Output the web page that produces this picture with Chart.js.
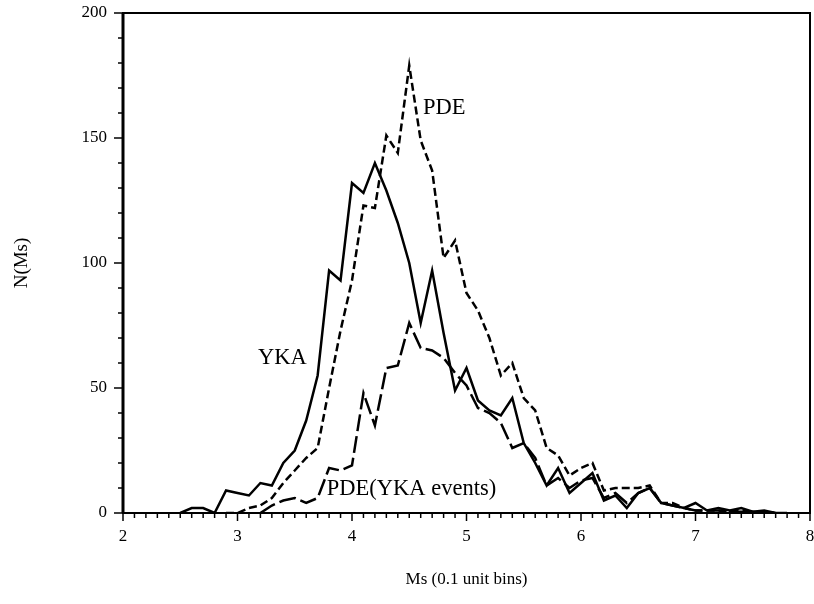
<!DOCTYPE html>
<html>
<head>
<meta charset="utf-8">
<script src="https://cdn.jsdelivr.net/npm/chart.js@4.4.1/dist/chart.umd.min.js"></script>
<style>
  html, body { margin: 0; padding: 0; background: #fff; }
  #wrap { width: 814px; height: 604px; }
</style>
</head>
<body>
<div id="wrap"><canvas id="grafico" width="814" height="604"></canvas></div>
<script>
// Ms bins (0.1 unit)
const ms = [2.5, 2.6, 2.7, 2.8, 2.9, 3.0, 3.1, 3.2, 3.3, 3.4,
            3.5, 3.6, 3.7, 3.8, 3.9, 4.0, 4.1, 4.2, 4.3, 4.4,
            4.5, 4.6, 4.7, 4.8, 4.9, 5.0, 5.1, 5.2, 5.3, 5.4,
            5.5, 5.6, 5.7, 5.8, 5.9, 6.0, 6.1, 6.2, 6.3, 6.4,
            6.5, 6.6, 6.7, 6.8, 6.9, 7.0, 7.1, 7.2, 7.3, 7.4,
            7.5, 7.6, 7.7, 7.8];

const yka = [0, 2, 2, 0, 9, 8, 7, 12, 11, 20,
             25, 37, 55, 97, 93, 132, 128, 140, 129, 116,
             100, 76, 97, 72, 49, 58, 45, 41, 39, 46,
             28, 20, 11, 18, 8, 12, 16, 5, 7, 2,
             8, 10, 4, 3, 2, 4, 1, 2, 1, 2,
             0.5, 1, 0, 0];

const pde = [null, null, null, null, 0, 0, 2, 3, 6, 12,
             17, 22, 26, 50, 73, 93, 123, 122, 151, 144,
             179, 149, 137, 102, 109, 88, 81, 70, 55, 60,
             46, 41, 26, 23, 15, 18, 20, 9, 10, 10,
             10, 11, 4, 4, 2, 1, 1, 1, 0.5, 1,
             0, 0.5, 0, null];

const pdeYka = [null, null, null, null, null, null, null, 0, 3, 5,
                6, 4, 6, 18, 17, 19, 48, 35, 58, 59,
                76, 66, 65, 62, 56, 51, 42, 40, 36, 26,
                28, 22, 11, 14, 10, 13, 14, 6, 8, 4,
                8, 10, 4, 3, 2, 1, 1, 1, 0.5, 0.5,
                0.5, 0, 0, null];

const xTicks = [2, 3, 4, 5, 6, 7, 8];
const yTicks = [0, 50, 100, 150, 200];

// etiquetas dentro del grafico (posicion en unidades de datos)
const notas = [
  { texto: "PDE", x: 4.62, y: 162 },
  { texto: "YKA", x: 3.18, y: 62 },
  { texto: "PDE(YKA events)", x: 3.78, y: 9.6 }
];

const fuente = "'Liberation Serif', 'Times New Roman', serif";

function serie(valores) {
  return ms.map((m, i) => ({ x: m, y: valores[i] }));
}

// sin relleno extra por las etiquetas de los extremos
function sinRelleno(s) {
  s.paddingLeft = 0;
  s.paddingRight = 0;
  s.paddingTop = 0;
  s.paddingBottom = 0;
}

const marco = {
  id: "marco",
  afterDatasetsDraw(chart) {
    const { ctx, chartArea: a, scales: { x, y } } = chart;
    ctx.save();
    ctx.strokeStyle = "#000";
    ctx.lineWidth = 1.5;

    // marcas del eje x cada 0.1
    for (let i = 20; i <= 80; i++) {
      const px = x.getPixelForValue(i / 10);
      const largo = i % 10 === 0 ? 8 : 5;
      ctx.beginPath();
      ctx.moveTo(px, a.bottom);
      ctx.lineTo(px, a.bottom + largo);
      ctx.stroke();
    }
    // marcas del eje y cada 10
    for (let v = 0; v <= 200; v += 10) {
      const py = y.getPixelForValue(v);
      const largo = v % 50 === 0 ? 9 : 5;
      ctx.beginPath();
      ctx.moveTo(a.left, py);
      ctx.lineTo(a.left - largo, py);
      ctx.stroke();
    }

    // caja
    ctx.lineWidth = 2;
    ctx.strokeRect(a.left, a.top, a.right - a.left, a.bottom - a.top);
    ctx.lineWidth = 3;
    ctx.beginPath();
    ctx.moveTo(a.left, a.top);
    ctx.lineTo(a.left, a.bottom);
    ctx.stroke();

    // textos
    ctx.fillStyle = "#000";
    ctx.font = "22.5px " + fuente;
    ctx.textBaseline = "middle";
    ctx.textAlign = "left";
    notas.forEach(n => {
      ctx.fillText(n.texto, x.getPixelForValue(n.x), y.getPixelForValue(n.y));
    });
    ctx.restore();
  }
};

const ctx = document.getElementById("grafico");

new Chart(ctx, {
  type: "line",
  data: {
    datasets: [
      {
        label: "YKA",
        data: serie(yka),
        borderColor: "#000",
        borderWidth: 2.5,
        pointRadius: 0,
        tension: 0
      },
      {
        label: "PDE",
        data: serie(pde),
        borderColor: "#000",
        borderWidth: 2.5,
        borderDash: [8, 4],
        pointRadius: 0,
        tension: 0
      },
      {
        label: "PDE(YKA events)",
        data: serie(pdeYka),
        borderColor: "#000",
        borderWidth: 2.5,
        borderDash: [17, 5],
        pointRadius: 0,
        tension: 0
      }
    ]
  },
  options: {
    responsive: false,
    animation: false,
    layout: { padding: { left: 0, top: 13, right: 4, bottom: 0 } },
    plugins: {
      legend: { display: false },
      tooltip: { enabled: false }
    },
    scales: {
      x: {
        type: "linear",
        min: 2,
        max: 8,
        afterBuildTicks: s => { s.ticks = xTicks.map(v => ({ value: v })); },
        afterFit: s => { s.height = 91; sinRelleno(s); },
        grid: { display: false, drawTicks: false },
        border: { display: false },
        ticks: {
          color: "#000",
          padding: 13,
          maxRotation: 0,
          font: { family: fuente, size: 17 }
        },
        title: {
          display: true,
          text: "Ms (0.1 unit bins)",
          color: "#000",
          padding: { top: 0, bottom: 14 },
          font: { family: fuente, size: 17 }
        }
      },
      y: {
        min: 0,
        max: 200,
        afterBuildTicks: s => { s.ticks = yTicks.map(v => ({ value: v })); },
        afterFit: s => { s.width = 123; sinRelleno(s); },
        grid: { display: false, drawTicks: false },
        border: { display: false },
        ticks: {
          color: "#000",
          padding: 16,
          font: { family: fuente, size: 17 }
        },
        title: {
          display: true,
          text: "N(Ms)",
          color: "#000",
          padding: { top: 11, bottom: 0 },
          font: { family: fuente, size: 19 }
        }
      }
    }
  },
  plugins: [marco]
});
</script>
</body>
</html>
